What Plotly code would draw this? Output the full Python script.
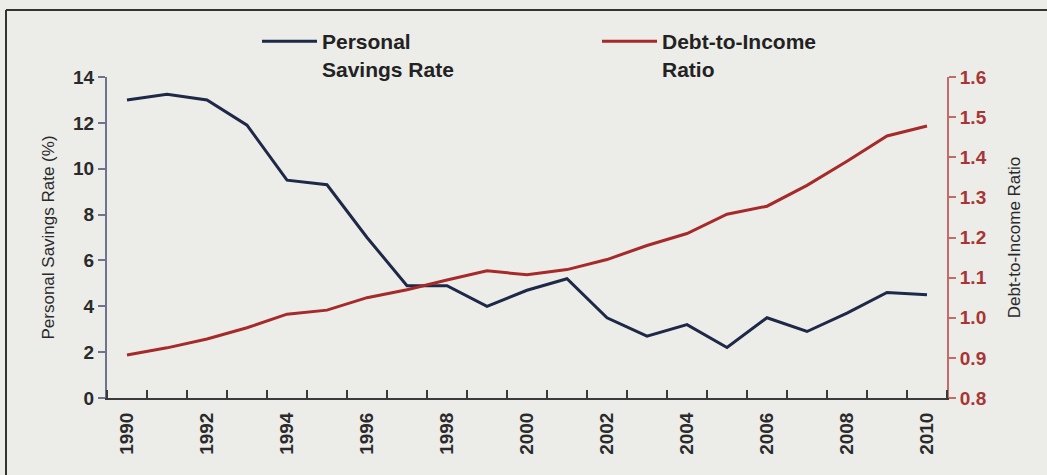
import plotly.graph_objects as go

years = list(range(1990, 2011))
savings_rate = [13.0, 13.25, 13.0, 11.9, 9.5, 9.3, 7.0, 4.9, 4.9, 4.0, 4.7, 5.2,
                3.5, 2.7, 3.2, 2.2, 3.5, 2.9, 3.7, 4.6, 4.5]
debt_ratio = [0.907, 0.925, 0.947, 0.975, 1.009, 1.019, 1.05, 1.07, 1.094, 1.117,
              1.107, 1.12, 1.145, 1.18, 1.21, 1.258, 1.278, 1.33, 1.39, 1.453, 1.478]
year_labels = [str(y) for y in range(1990, 2011, 2)]

navy = "#1e2847"
red = "#a62a2a"
red_tick = "#a83535"
bg = "#ecece9"
font_fam = "Arial, Liberation Sans, sans-serif"

# plot-area geometry (pixels) for paper-coordinate helpers
L, R, T, B, W, H = 107, 100, 77, 77, 1047, 475
pw, ph = W - L - R, H - T - B
def px(x):
    return (x - L) / pw
def py(y):
    return (H - B - y) / ph

fig = go.Figure()
fig.add_trace(go.Scatter(
    x=years, y=savings_rate, mode="lines", name="Personal<br>Savings Rate",
    line=dict(color=navy, width=3), yaxis="y", legend="legend"))
fig.add_trace(go.Scatter(
    x=years, y=debt_ratio, mode="lines", name="Debt-to-Income<br>Ratio",
    line=dict(color=red, width=3), yaxis="y2", legend="legend2"))

legend_font = dict(size=21, weight="bold", color="#222222", family=font_fam)
fig.update_layout(
    width=W, height=H, autosize=False,
    margin=dict(l=L, r=R, t=T, b=B),
    paper_bgcolor=bg, plot_bgcolor=bg,
    font=dict(family=font_fam, color="#2a2a2a"),
    showlegend=True,
    legend=dict(x=px(257), y=py(21), xanchor="left", yanchor="top",
                bgcolor="rgba(0,0,0,0)", valign="top", font=legend_font,
                itemwidth=55),
    legend2=dict(x=px(597), y=py(21), xanchor="left", yanchor="top",
                 bgcolor="rgba(0,0,0,0)", valign="top", font=legend_font,
                 itemwidth=55),
    xaxis=dict(
        range=[1989.5, 2010.5], tickmode="array",
        tickvals=list(range(1990, 2011, 2)), ticktext=year_labels,
        tickangle=-90, ticks="", showgrid=False, zeroline=False,
        showline=True, linecolor="#3a3a3a", linewidth=2,
        tickfont=dict(size=19, weight="bold", color="#2a2a2a"),
        minor=dict(ticks="inside", tickvals=[y + 0.5 for y in range(1989, 2011)],
                   ticklen=8, tickwidth=2, tickcolor="#3a3a3a", showgrid=False),
        ticklabelstandoff=5),
    yaxis=dict(
        range=[0, 14], tickmode="array", tickvals=list(range(0, 15, 2)),
        ticks="outside", ticklen=7, tickwidth=2, tickcolor="#6f7390",
        showline=True, linecolor="#6f7390", linewidth=2,
        showgrid=False, zeroline=False,
        tickfont=dict(size=19, weight="bold", color="#2a2a2a"),
        title=dict(text="Personal Savings Rate (%)", standoff=14,
                   font=dict(size=17, color="#2a2a2a"))),
    yaxis2=dict(
        range=[0.8, 1.6], overlaying="y", side="right",
        tickmode="array", tickvals=[0.8, 0.9, 1.0, 1.1, 1.2, 1.3, 1.4, 1.5, 1.6],
        ticktext=["0.8", "0.9", "1.0", "1.1", "1.2", "1.3", "1.4", "1.5", "1.6"],
        ticks="outside", ticklen=7, tickwidth=2, tickcolor="#c46a6a",
        showline=True, linecolor="#c46a6a", linewidth=2,
        showgrid=False, zeroline=False,
        tickfont=dict(size=19, weight="bold", color=red_tick),
        title=dict(text="Debt-to-Income Ratio", standoff=22,
                   font=dict(size=17, color="#2a2a2a"))),
    shapes=[
        dict(type="line", xref="paper", yref="paper",
             x0=px(6), x1=px(1050), y0=py(10), y1=py(10),
             line=dict(color="#333333", width=2)),
        dict(type="line", xref="paper", yref="paper",
             x0=px(6), x1=px(6), y0=py(10), y1=py(480),
             line=dict(color="#333333", width=2)),
    ],
)

post = ("document.body.style.margin='0';document.body.style.padding='0';"
        "document.body.style.overflow='hidden';"
        "document.documentElement.style.overflow='hidden';"
        "var gd=document.getElementById('{plot_id}');"
        "Plotly.relayout(gd,{width:%d,height:%d});" % (W, H))

fig.write_html("out.html", post_script=post, config={"displayModeBar": False})
